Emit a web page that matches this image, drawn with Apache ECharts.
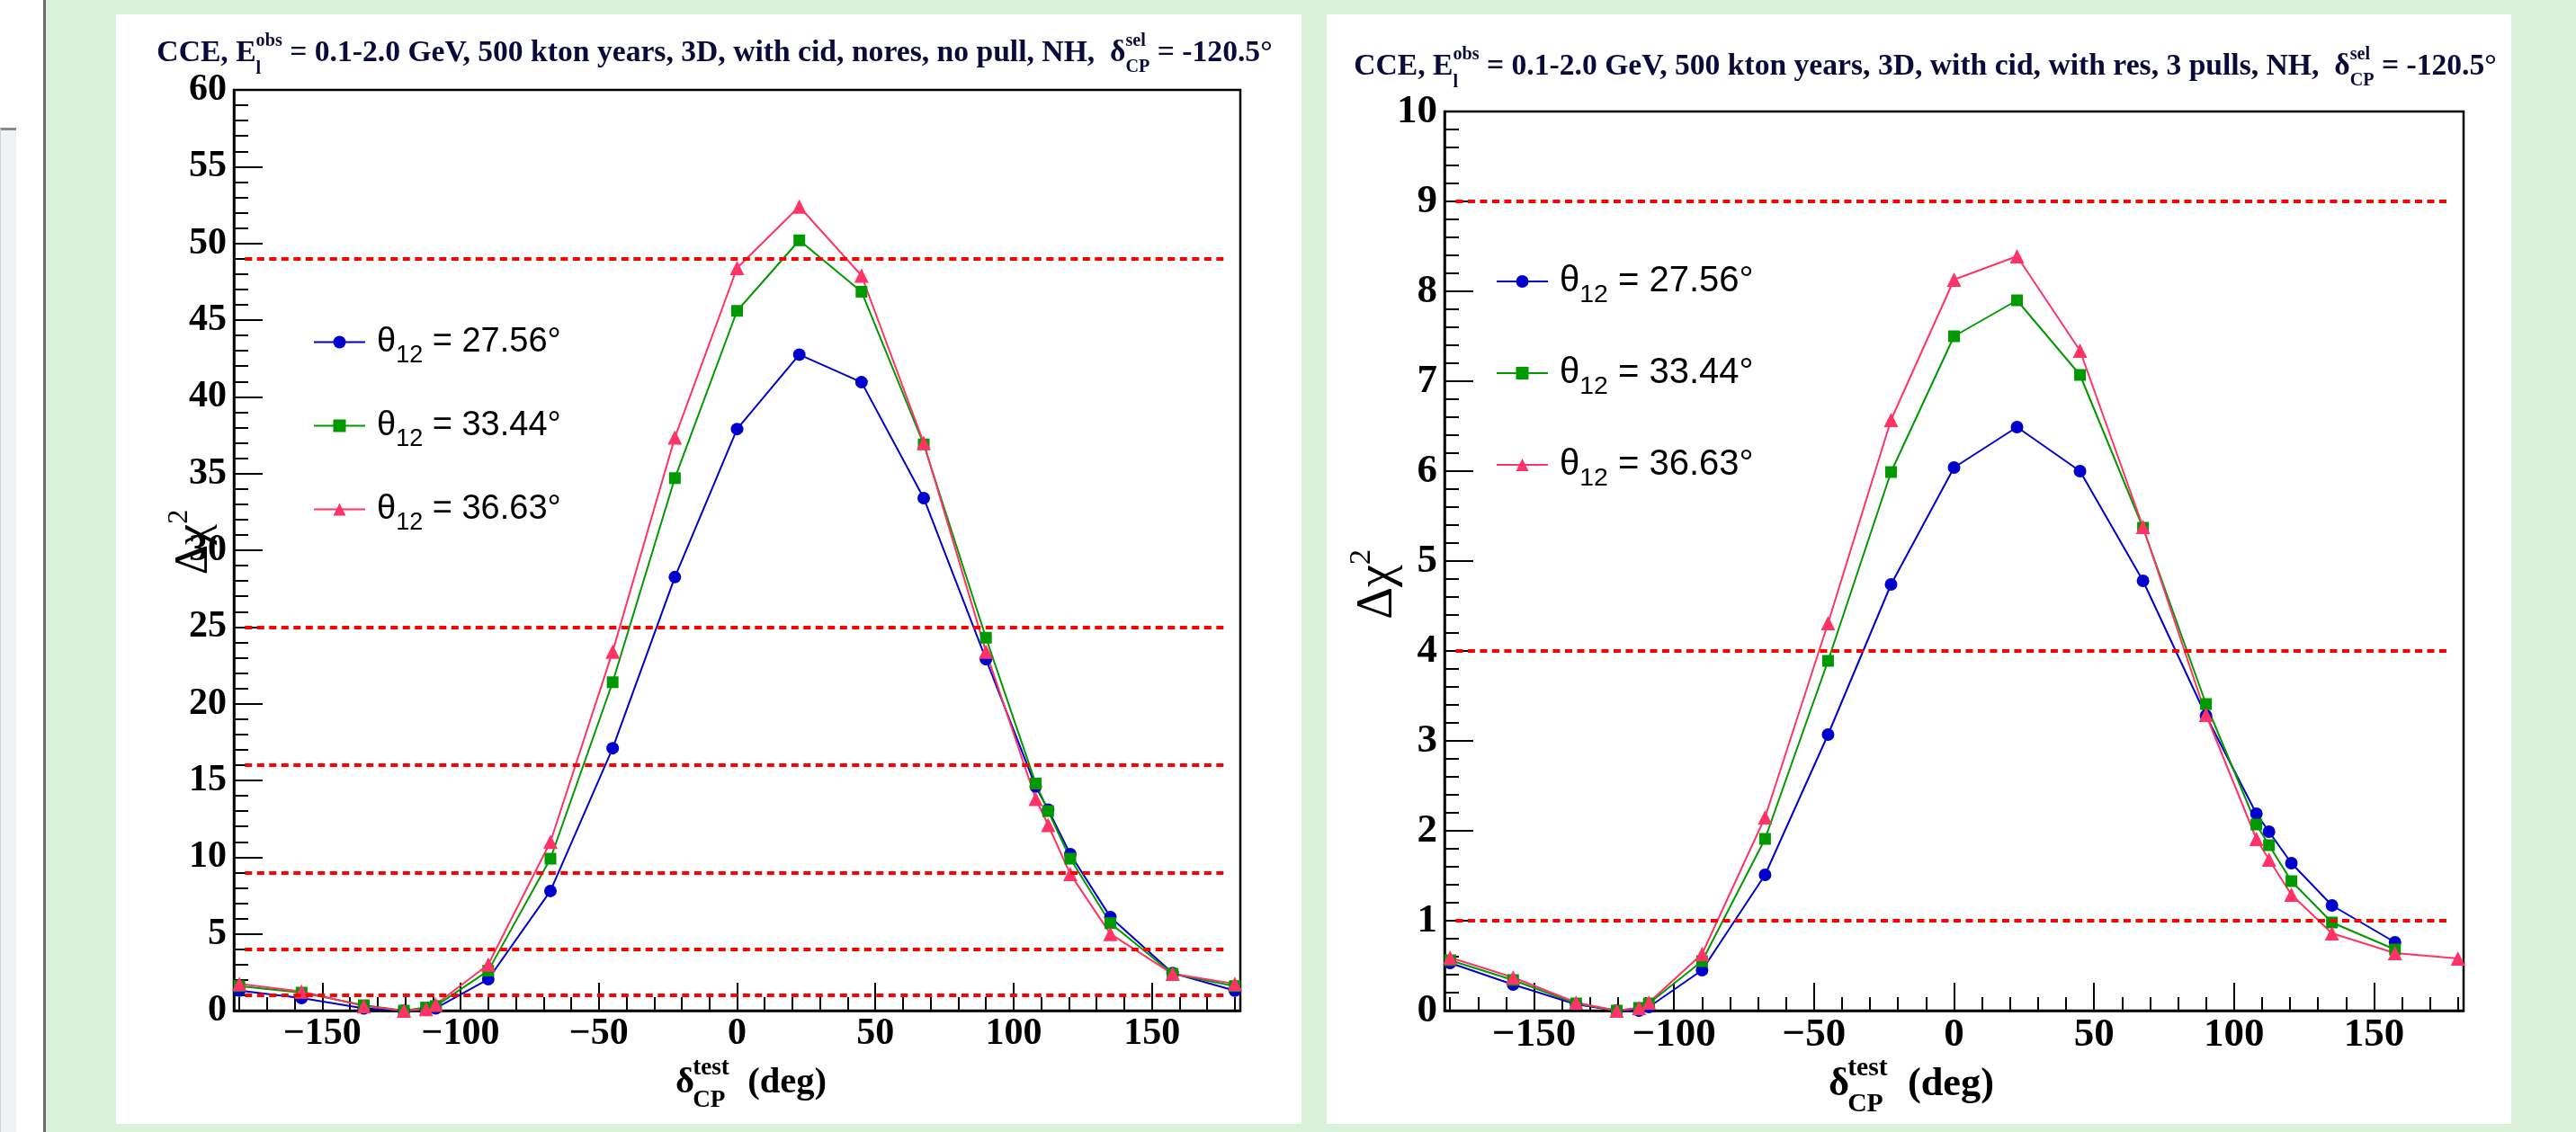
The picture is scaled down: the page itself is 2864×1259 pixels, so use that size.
<!DOCTYPE html>
<html><head><meta charset="utf-8">
<script src="https://cdn.jsdelivr.net/npm/echarts@6/dist/echarts.min.js"></script>
<style>html,body{margin:0;padding:0;background:#d9f0d9;}#c{width:2864px;height:1259px;}</style>
</head><body><div id="c"></div>
<script>
// ---------------- data ----------------
const thetaValues = ['27.56', '33.44', '36.63'];
const deltaLeft  = [-180, -157.5, -135, -120.5, -112.5, -109, -90, -67.5, -45, -22.5, 0, 22.5, 45, 67.5, 90, 108, 112.5, 120.5, 135, 157.5, 180];
const leftBlue   = [1.3, 0.82, 0.14, 0, 0.05, 0.15, 2.05, 7.8, 17.1, 28.25, 37.9, 42.75, 40.95, 33.4, 22.9, 14.6, 13.1, 10.2, 6.1, 2.45, 1.3];
const leftGreen  = [1.6, 1.17, 0.35, 0, 0.2, 0.3, 2.6, 9.9, 21.4, 34.7, 45.6, 50.2, 46.85, 36.9, 24.3, 14.8, 13.0, 9.9, 5.7, 2.4, 1.6];
const leftPink   = [1.75, 1.25, 0.3, 0, 0.1, 0.4, 3.0, 11.0, 23.4, 37.35, 48.4, 52.4, 47.9, 37.0, 23.4, 13.8, 12.1, 8.9, 5.0, 2.4, 1.75];
const deltaRight = [-180, -157.5, -135, -120.5, -112.5, -109, -90, -67.5, -45, -22.5, 0, 22.5, 45, 67.5, 90, 108, 112.5, 120.5, 135, 157.5, 180];
const rightBlue  = [0.53, 0.29, 0.07, 0, 0.0, 0.04, 0.45, 1.51, 3.07, 4.74, 6.04, 6.49, 6.0, 4.78, 3.28, 2.19, 1.99, 1.64, 1.17, 0.76];
const rightGreen = [0.56, 0.34, 0.08, 0, 0.03, 0.08, 0.55, 1.91, 3.89, 5.99, 7.50, 7.90, 7.07, 5.37, 3.41, 2.07, 1.84, 1.44, 0.98, 0.68];
const rightPink  = [0.59, 0.37, 0.09, 0, 0.03, 0.09, 0.63, 2.15, 4.31, 6.57, 8.13, 8.39, 7.34, 5.38, 3.29, 1.91, 1.68, 1.29, 0.86, 0.64, 0.58];
const leftLevels  = [1, 4, 9, 16, 25, 49];
const rightLevels = [1, 4, 9];
const levelSpan   = [-178, 177];
const xTickLabels = [-150, -100, -50, 0, 50, 100, 150];
const xMinorTicks = [-180, -170, -160, -140, -130, -120, -110, -90, -80, -70, -60, -40, -30, -20, -10, 10, 20, 30, 40, 60, 70, 80, 90, 110, 120, 130, 140, 160, 170, 180];
const leftTitleA  = 'CCE, E';
const leftTitleB  = ' = 0.1-2.0 GeV, 500 kton years, 3D, with cid, nores, no pull, NH,  \u03b4';
const rightTitleB = ' = 0.1-2.0 GeV, 500 kton years, 3D, with cid, with res, 3 pulls, NH,  \u03b4';
const titleTail   = ' = -120.5\u00b0';

// ---------------- helpers ----------------
const mctx = document.createElement('canvas').getContext('2d');
const F = (size, family, weight) => ({size, family, weight: weight || 'normal'});
const TB = s => F(s, 'Liberation Serif', 'bold');
const fstr = f => f.weight + ' ' + f.size + 'px "' + f.family + '"';
function tw(t, f) { mctx.font = fstr(f); return mctx.measureText(t).width; }
function midShift(f) {
  mctx.font = fstr(f);
  mctx.textBaseline = 'alphabetic';
  const a = mctx.measureText('H').actualBoundingBoxAscent;
  mctx.textBaseline = 'middle';
  const b = mctx.measureText('H').actualBoundingBoxAscent;
  mctx.textBaseline = 'alphabetic';
  return a - b;
}
function textLine(segs, cx, yb, fill, targetWidth) {
  let scale = 1;
  const sc = f => ({...f, size: f.size * scale});
  const segW = s => s.stack ? Math.max(...s.stack.map(p => tw(p.t, sc(p.f)))) : tw(s.t, sc(s.f));
  if (targetWidth) {
    const w0 = segs.reduce((a, s) => a + segW(s), 0);
    scale = targetWidth / w0;
  }
  const total = segs.reduce((a, s) => a + segW(s), 0);
  let x = cx - total / 2;
  const els = [];
  const put = (p, x0) => {
    const f = sc(p.f);
    els.push({type: 'text', x: x0 + (p.dx || 0) * scale, y: yb + (p.dy || 0) * scale - midShift(f), silent: true,
      style: {text: p.t, font: fstr(f), fill: fill, align: 'left', verticalAlign: 'middle'}});
  };
  for (const s of segs) {
    if (s.stack) s.stack.forEach(p => put(p, x)); else put(s, x);
    x += segW(s) + (s.adv || 0) * scale;
  }
  return els;
}
const zip = (xs, ys) => ys.map((y, i) => [xs[i], y]);
const fmtMinus = v => (v < 0 ? '\u2212' + Math.abs(v) : String(v));

// ---------------- styles ----------------
const styles = [
  {color: '#0000cc', symbol: 'circle', size: 14},
  {color: '#009900', symbol: 'rect', size: 13},
  {color: '#ff3366', symbol: 'triangle', size: 16}
];
function mkSeries(name, xs, ys, st, idx, levels) {
  const s = {
    type: 'line', name: name, xAxisIndex: idx, yAxisIndex: idx, data: zip(xs, ys),
    symbol: st.symbol, symbolSize: st.size, showAllSymbol: true,
    itemStyle: {color: st.color, borderWidth: 0},
    lineStyle: {color: st.color, width: 2}, animation: false, silent: true
  };
  if (levels) {
    s.markLine = {
      silent: true, symbol: ['none', 'none'], label: {show: false}, animation: false,
      lineStyle: {color: '#ff0000', width: 4, type: [8, 5.5]},
      emphasis: {disabled: true},
      data: levels.map(v => [{coord: [levelSpan[0], v]}, {coord: [levelSpan[1], v]}])
    };
  }
  return s;
}
function xMain(grid, fs) {
  return {type: 'value', gridIndex: grid, min: -182, max: 182, splitLine: {show: false},
    axisLine: {show: true, onZero: false, lineStyle: {color: '#000', width: 2.5}},
    axisTick: {show: true, inside: true, length: 31, customValues: xTickLabels, lineStyle: {color: '#000', width: 2}},
    axisLabel: {show: true, customValues: xTickLabels, margin: 5, formatter: fmtMinus,
      fontFamily: 'Liberation Serif', fontWeight: 'bold', fontSize: fs, color: '#000'}};
}
function xMinor(grid) {
  return {type: 'value', gridIndex: grid, min: -182, max: 182, splitLine: {show: false},
    axisLine: {show: false},
    axisTick: {show: true, inside: true, length: 15, customValues: xMinorTicks, lineStyle: {color: '#000', width: 2}},
    axisLabel: {show: false}};
}
function yMain(grid, max, interval, fs) {
  return {type: 'value', gridIndex: grid, min: 0, max: max, interval: interval,
    splitLine: {show: false}, minorSplitLine: {show: false},
    axisLine: {show: true, onZero: false, lineStyle: {color: '#000', width: 2.5}},
    axisTick: {show: true, inside: true, length: 32, lineStyle: {color: '#000', width: 2}},
    minorTick: {show: true, splitNumber: 5, length: 16, lineStyle: {color: '#000', width: 2}},
    axisLabel: {margin: 8, fontFamily: 'Liberation Serif', fontWeight: 'bold', fontSize: fs, color: '#000'}};
}
const yHidden = grid => ({type: 'value', gridIndex: grid, min: 0, max: 1, show: false, splitLine: {show: false}});

function legendCfg(names, left, top, gap, fs) {
  return {
    data: names, orient: 'vertical', left: left, top: top, itemWidth: 57, itemHeight: 17.5, itemGap: gap,
    selectedMode: false,
    formatter: n => '{t|\u03b8}{s|12}{t| = ' + thetaValues[names.indexOf(n)] + '\u00b0}',
    textStyle: {color: '#000', padding: [0, 0, 0, 8],
      rich: {
        t: {fontFamily: 'Liberation Sans', fontSize: fs, lineHeight: 40, color: '#000'},
        s: {fontFamily: 'Liberation Sans', fontSize: fs * 0.71, lineHeight: 40, padding: [30, 0, 0, 0], color: '#000'}
      }}
  };
}

// ---------------- graphic ----------------
const gfx = [];
const bg = (x, y, w, h, fill) => gfx.push({type: 'rect', z: -100, silent: true, shape: {x, y, width: w, height: h}, style: {fill}});
bg(0, 0, 2864, 1259, '#d9f0d9');
bg(0, 0, 49, 1259, '#ffffff');
bg(0, 143, 18, 1116, '#f1f2f4');
bg(0, 142, 18, 3, '#8a8a8a');
bg(0, 143, 1, 1116, '#d0d0d0');
bg(48, 0, 3, 1259, '#6b6b6b');
bg(129, 16, 1318, 1234, '#ffffff');
bg(1475, 16, 1317, 1234, '#ffffff');

const titleColor = '#0b0b3b';
gfx.push(...textLine([
  {t: leftTitleA, f: TB(35)},
  {stack: [{t: 'obs', f: TB(21), dy: -18}, {t: 'l', f: TB(21), dy: 15}]},
  {t: leftTitleB, f: TB(35)},
  {stack: [{t: 'sel', f: TB(21), dy: -18}, {t: 'CP', f: TB(21), dy: 13}]},
  {t: titleTail, f: TB(35)}
], 794.5, 68, titleColor, 1241));
gfx.push(...textLine([
  {t: leftTitleA, f: TB(35)},
  {stack: [{t: 'obs', f: TB(21), dy: -18}, {t: 'l', f: TB(21), dy: 15}]},
  {t: rightTitleB, f: TB(35)},
  {stack: [{t: 'sel', f: TB(21), dy: -18}, {t: 'CP', f: TB(21), dy: 13}]},
  {t: titleTail, f: TB(35)}
], 2140.5, 83, titleColor, 1271));

function xTitle(cx, yb, s, width) {
  return textLine([
    {t: '\u03b4', f: TB(s), adv: -2},
    {stack: [{t: 'test', f: TB(s * 0.67), dy: -s * 0.5}, {t: 'CP', f: TB(s * 0.67), dy: s * 0.4}]},
    {t: '  (deg)', f: TB(s)}
  ], cx, yb, '#000', width);
}
gfx.push(...xTitle(836, 1215, 42, 170));
gfx.push(...xTitle(2126, 1218, 46, 186));

function yTitle(cx, cy, s) {
  const els = textLine([
    {t: '\u0394\u03c7', f: F(s, 'Liberation Serif')},
    {t: '2', f: F(s * 0.62, 'Liberation Serif'), dy: -s * 0.42}
  ], 0, s * 0.3, '#000');
  return {type: 'group', x: cx, y: cy, rotation: Math.PI / 2, silent: true, children: els};
}
gfx.push(yTitle(214, 603, 52));
gfx.push(yTitle(1530, 650, 56));

// ---------------- chart ----------------
const chart = echarts.init(document.getElementById('c'), null, {renderer: 'canvas', width: 2864, height: 1259});
chart.setOption({
  animation: false,
  backgroundColor: 'transparent',
  graphic: {elements: gfx},
  grid: [
    {left: 260, top: 100, width: 1119, height: 1024, show: true, borderColor: '#000', borderWidth: 2.5, backgroundColor: 'transparent', outerBoundsMode: 'none'},
    {left: 260, top: 100, width: 1119, height: 1024, show: false, outerBoundsMode: 'none'},
    {left: 1606, top: 124, width: 1133, height: 1000, show: true, borderColor: '#000', borderWidth: 2.5, backgroundColor: 'transparent', outerBoundsMode: 'none'},
    {left: 1606, top: 124, width: 1133, height: 1000, show: false, outerBoundsMode: 'none'}
  ],
  xAxis: [xMain(0, 42), xMinor(1), xMain(2, 45), xMinor(3)],
  yAxis: [yMain(0, 60, 5, 42), yHidden(1), yMain(2, 10, 1, 45), yHidden(3)],
  legend: [
    legendCfg(['L0', 'L1', 'L2'], 343, 347, 36, 38),
    legendCfg(['R0', 'R1', 'R2'], 1658, 279, 44, 40)
  ],
  series: [
    mkSeries('L0', deltaLeft, leftBlue, styles[0], 0, leftLevels),
    mkSeries('L1', deltaLeft, leftGreen, styles[1], 0),
    mkSeries('L2', deltaLeft, leftPink, styles[2], 0),
    mkSeries('R0', deltaRight, rightBlue, styles[0], 2, rightLevels),
    mkSeries('R1', deltaRight, rightGreen, styles[1], 2),
    mkSeries('R2', deltaRight, rightPink, styles[2], 2)
  ]
});
</script></body></html>
